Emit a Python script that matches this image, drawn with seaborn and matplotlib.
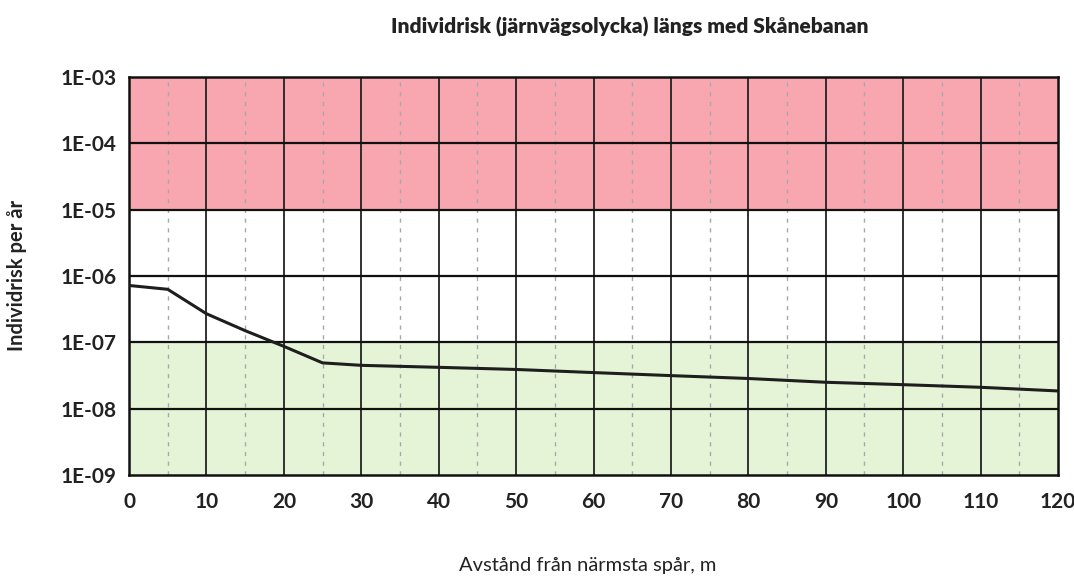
import matplotlib
matplotlib.use("Agg")
import matplotlib.pyplot as plt
import seaborn as sns
import pandas as pd
import numpy as np
from matplotlib.ticker import FixedLocator, FixedFormatter

distance_m = [0, 5, 10, 15, 20, 25, 30, 40, 50, 60, 70, 80, 90, 100, 110, 120]
risk_per_year = [7.2e-7, 6.3e-7, 2.7e-7, 1.5e-7, 8.7e-8, 4.9e-8, 4.5e-8, 4.2e-8,
                 3.9e-8, 3.5e-8, 3.15e-8, 2.85e-8, 2.5e-8, 2.3e-8, 2.1e-8, 1.85e-8]
y_ticks = [1e-9, 1e-8, 1e-7, 1e-6, 1e-5, 1e-4, 1e-3]
y_tick_labels = ["1E-09", "1E-08", "1E-07", "1E-06", "1E-05", "1E-04", "1E-03"]
x_ticks = list(range(0, 121, 10))
zones = [(1e-9, 1e-7, "#e5f4d6"), (1e-7, 1e-5, "#ffffff"), (1e-5, 1e-3, "#f8a7b0")]

title = "Individrisk (järnvägsolycka) längs med Skånebanan"
xlabel = "Avstånd från närmsta spår, m"
ylabel = "Individrisk per år"

sns.set_theme(style="white")
plt.rcParams["font.family"] = ["Lato", "DejaVu Sans"]

df = pd.DataFrame({"x": distance_m, "y": risk_per_year})

fig = plt.figure(figsize=(10.74, 5.78), dpi=100)
ax = fig.add_axes([129 / 1074, 103 / 578, (1058 - 129) / 1074, (475 - 77) / 578])

for lo, hi, c in zones:
    ax.axhspan(lo, hi, color=c, zorder=0, lw=0)

ax.set_yscale("log")
ax.set_xlim(0, 120)
ax.set_ylim(1e-9, 1e-3)

# grid
for xv in range(5, 120, 10):
    ax.axvline(xv, color="#a8a8a8", lw=1.0, ls=(0, (3, 4)), zorder=1)
for xv in range(10, 120, 10):
    ax.axvline(xv, color="#222222", lw=1.3, zorder=1)
for yv in y_ticks[1:-1]:
    ax.axhline(yv, color="#111111", lw=1.6, zorder=1)

sns.lineplot(data=df, x="x", y="y", ax=ax, color="#1e1e1e", lw=2.2, zorder=3)

ax.yaxis.set_major_locator(FixedLocator(y_ticks))
ax.yaxis.set_major_formatter(FixedFormatter(y_tick_labels))
ax.yaxis.set_minor_locator(FixedLocator([]))
ax.set_xticks(x_ticks)
ax.set_xticklabels([str(v) for v in x_ticks])

ax.tick_params(axis="y", which="major", direction="out", length=6, width=1.5,
               color="#111111", labelsize=15, pad=3)
ax.tick_params(axis="x", which="major", direction="out", length=0,
               labelsize=15, pad=12)
for lab in ax.get_xticklabels() + ax.get_yticklabels():
    lab.set_fontweight("bold")
    lab.set_color("#222222")

for s in ax.spines.values():
    s.set_visible(True)
    s.set_color("#111111")
    s.set_linewidth(1.8)

ax.set_xlabel("")
ax.set_ylabel("")
fig.text(630 / 1074, 1 - 27 / 578, title, ha="center", va="center",
         fontsize=15, fontweight="heavy", color="#222222")
fig.text(588 / 1074, 1 - 566 / 578, xlabel, ha="center", va="center",
         fontsize=14.5, color="#222222")
fig.text(17 / 1074, 1 - 275 / 578, ylabel, ha="center", va="center",
         rotation=90, fontsize=14.5, fontweight="bold", color="#222222")

fig.savefig("out.png", dpi=100, facecolor="white")
